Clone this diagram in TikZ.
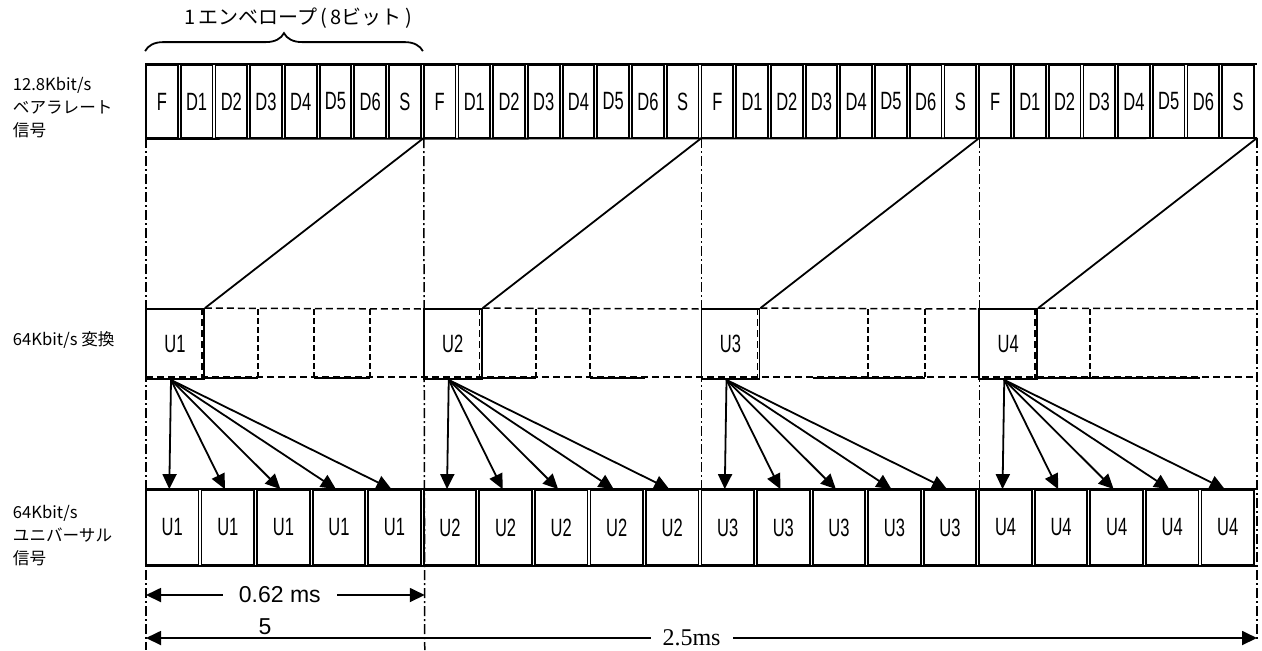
\documentclass[tikz,border=0pt]{standalone}
\usepackage{fontspec}
\setmainfont{Liberation Sans}
\newfontfamily\jpfont{Noto Sans CJK JP}
\newfontfamily\narfont[FakeStretch=0.66]{Liberation Sans}
\newfontfamily\serfont{Liberation Serif}
\usetikzlibrary{arrows.meta,positioning,calc,decorations.pathreplacing}

\begin{document}
\begin{tikzpicture}[
  x=0.5pt, y=-0.5pt,
  line width=0.9pt,
  cell/.style={draw, inner sep=0pt, minimum width=15.86pt, minimum height=36.5pt,
    font=\narfont\fontsize{12.5}{14}\selectfont},
  ucell/.style={cell, minimum width=26.28pt, minimum height=37.5pt},
  ubox/.style={draw, inner sep=0pt, minimum width=29pt, minimum height=35pt,
    font=\narfont\fontsize{12.5}{14}\selectfont},
  lbl/.style={anchor=west, inner sep=0pt, align=left, font=\jpfont\fontsize{8.3}{11.5}\selectfont},
  dimtxt/.style={fill=white, inner ysep=1pt, font=\fontsize{11.5}{13}\selectfont},
  dashdot/.style={line width=0.75pt, dash pattern=on 5pt off 1.5pt on 1pt off 1.5pt},
  dsh/.style={line width=0.75pt, dash pattern=on 3.5pt off 2pt},
  slot/.style={line width=1.2pt, dash pattern=on 3pt off 1.5pt},
  >={Triangle[length=7.5pt,width=7pt]},
]
\useasboundingbox (0,0) rectangle (1262,650);

% envelope borders
\foreach \i in {0,...,4} { \coordinate (e\i) at ({146+\i*277.75},138); }
\coordinate (f0) at (146,650);
\coordinate (f1) at (424.75,650);
\coordinate (f2) at (701.5,566);
\coordinate (f3) at (979.25,566);
\coordinate (f4) at (1257,642);

% 12.8Kbit/s row
\foreach \e in {0,...,3} {
  \foreach \t [count=\k from 0] in {F,D1,D2,D3,D4,D5,D6,S} {
    \node[cell] (t-\e-\k) at ({146+\e*277.75+\k*34.72+15.86},101.5) {\t};
  }
}
\draw (t-0-0.north west) -- (e4 |- t-3-7.north east);
\draw (t-0-0.south west) -- (e4);

\node[font=\jpfont\fontsize{10}{12}\selectfont] (ttl) at (298,18)
  {1\,エンベロープ\,(\,8ビット\,)};
\draw[decorate, decoration={brace, amplitude=9pt}]
  ([yshift=6.5pt]t-0-0.north west) -- ([yshift=6.5pt]t-1-0.north west);

% 64Kbit/s conversion row
\foreach \e/\j/\n in {0/1/1,1/2/2,2/3/3,3/4/4} {
  \node[ubox] (u\e) at ({146+\e*277.75+29},344) {U\n};
  \coordinate (m\e) at ({146+\j*277.75},309);
  \draw[dsh] (u\e.north east) -- (m\e);
  \draw[dsh] ([xshift=-1.5pt]u\e.north east) -- ([xshift=-1.5pt]u\e.south east);
  \draw (e\j) -- (u\e.north east);
}
\draw[dsh] (146,377) -- (1257,377);
\foreach \a/\b in {204/258,314/370,483/536,590/645,813/925,1038/1200} {
  \draw (\a,378) -- (\b,378);
}
\foreach \x in {258,314,370,536,590,868,925,1090} {
  \draw[slot] (\x,309) -- (\x,377);
}

% 64Kbit/s universal row
\foreach \e/\n in {0/1,1/2,2/3,3/4} {
  \foreach \k in {0,...,4} {
    \node[ucell] (b-\e-\k) at ({146+\e*277.75+\k*55.55+26.28},527.5) {U\n};
    \draw[->] ([xshift=-2pt]u\e.south) -- ([xshift=-1.5pt]b-\e-\k.north);
  }
}
\draw (b-0-0.north west) -- (e4 |- b-3-4.north east);
\draw (b-0-0.south west) -- (e4 |- b-3-4.south east);

\foreach \i in {0,...,4} { \draw[dashdot] (e\i) -- (f\i); }

% labels
\node[lbl] (lb1) at (12,108) {12.8Kbit/s\\ベアラレート\\信号};
\node[lbl] (lb2) at (12,340) {64Kbit/s 変換};
\node[lbl] (lb3) at (12,536) {64Kbit/s\\ユニバーサル\\信号};

% time scale
\coordinate (d0) at (146,595);
\coordinate (d1) at (424.75,595);
\coordinate (g0) at (146,638);
\coordinate (g1) at (1257,638);
\draw[<->] (d0) -- node[dimtxt, pos=0.48, inner xsep=8pt] (dt) {0.62 ms} (d1);
\node[font=\fontsize{11.5}{13}\selectfont] (five) at (265,627) {5};
\draw[<->] (g0) -- node[pos=0.491, fill=white, inner xsep=6pt, inner ysep=1pt,
  font=\serfont\fontsize{12}{14}\selectfont] (tt) {2.5ms} (g1);
\end{tikzpicture}
\end{document}
